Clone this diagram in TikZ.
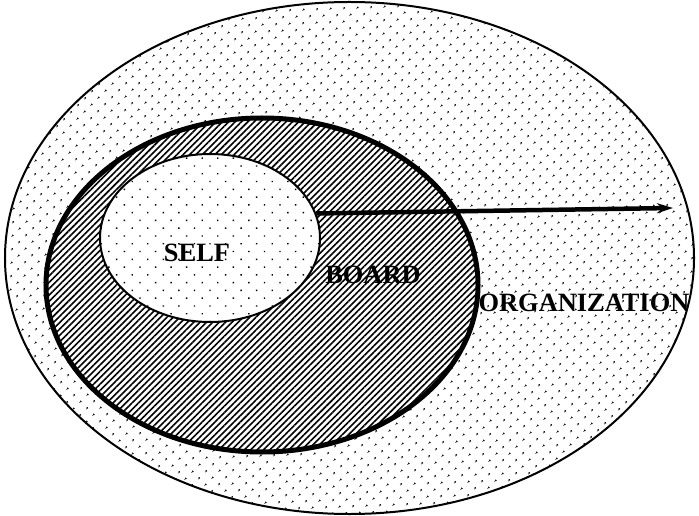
\documentclass[tikz,border=0pt]{standalone}
\usepackage{fontspec}
\setmainfont{Liberation Serif}
\usetikzlibrary{shapes.geometric,patterns.meta,arrows.meta}

\begin{document}
\begin{tikzpicture}[
    x=1bp, y=-1bp,
    font=\fontsize{26.5}{30}\selectfont\bfseries,
    >={Stealth[length=16bp,width=10bp]},
    ring/.style={
        ellipse,
        draw,
        inner sep=0pt,
        preaction={fill=white}
    },
    label/.style={
        inner sep=0pt
    }
]
\useasboundingbox (0,0) rectangle (699,516);

\node[ring, line width=2bp, minimum width=689bp, minimum height=512bp,
      pattern={Dots[radius=1.2bp,distance=10bp,angle=45]}] (org) at (349.5,258) {};
\node[ring, line width=5bp, minimum width=432bp, minimum height=334bp,
      pattern={Lines[angle=45,distance=4.5bp,line width=1.6bp]}] (board) at (262,285) {};
\node[ring, line width=2bp, minimum width=220bp, minimum height=168bp,
      pattern={Dots[radius=1bp,distance=11bp,angle=45]}] (self) at (210,238) {};

\node[label] (selftext) at (197,253) {SELF};
\node[label] (boardtext) at (373,275) {BOARD};
\node[label] (orgtext) at (584,303) {ORGANIZATION};

\coordinate (tip) at (673,208);
\draw[->, line width=4.5bp] (self.13) -- (tip);

\end{tikzpicture}
\end{document}
